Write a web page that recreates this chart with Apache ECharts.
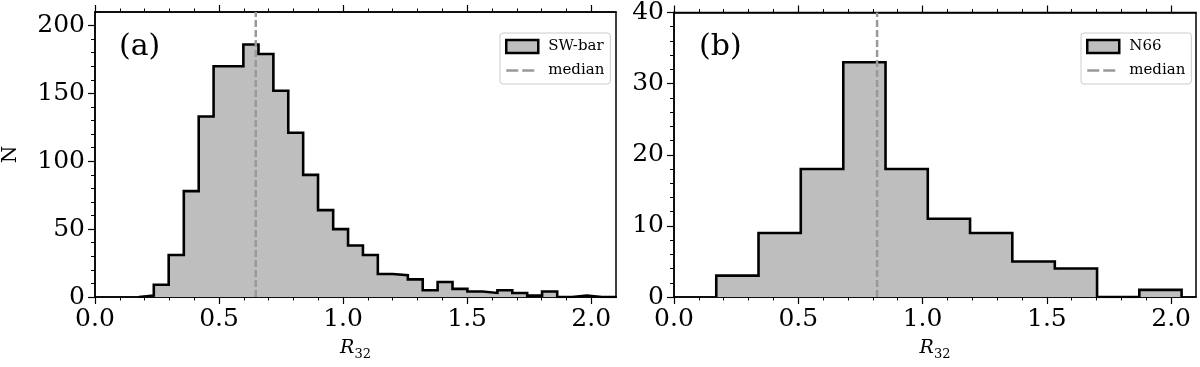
<!DOCTYPE html>
<html>
<head>
<meta charset="utf-8">
<script src="https://cdn.jsdelivr.net/npm/echarts@6/dist/echarts.min.js"></script>
<style>
  html, body { margin: 0; padding: 0; background: #fff; }
  #chart { width: 1200px; height: 367px; }
</style>
</head>
<body>
<div id="chart"></div>
<script>
// R32 histograms, values
var swBarEdges = [0.177, 0.237, 0.297, 0.358, 0.418, 0.478, 0.538, 0.598, 0.659, 0.719,
  0.779, 0.839, 0.899, 0.960, 1.020, 1.080, 1.140, 1.200, 1.261, 1.321, 1.381, 1.441,
  1.501, 1.562, 1.622, 1.682, 1.742, 1.802, 1.863, 1.923, 1.983, 2.043, 2.103];
var swBarCounts = [1, 9, 31, 78, 133, 170, 170, 186, 179, 152, 121, 90, 64, 50, 38, 31,
  17, 16, 13, 5, 11, 6, 4, 3, 5, 3, 1, 4, 0, 1, 0, 0];
var swBarMedian = 0.648;
var swBarYMax = 210;

var n66Edges = [0.170, 0.340, 0.510, 0.681, 0.851, 1.021, 1.191, 1.361, 1.532, 1.702, 1.872, 2.042];
var n66Counts = [3, 9, 18, 33, 18, 11, 9, 5, 4, 0, 1];
var n66Median = 0.817;
var n66YMax = 40;

var xTicks = [0, 0.5, 1.0, 1.5, 2.0];
var yTicksA = [0, 50, 100, 150, 200];
var yTicksB = [0, 10, 20, 30, 40];

var FONT = 'DejaVu Serif';
var FILL = '#bebebe';
var MED = '#999999';

// stepfilled outline of a histogram
function outline(edges, counts) {
  var pts = [[edges[0], 0]];
  for (var i = 0; i < counts.length; i++) {
    pts.push([edges[i], counts[i]]);
    pts.push([edges[i + 1], counts[i]]);
  }
  pts.push([edges[edges.length - 1], 0]);
  return pts;
}

function xAxes(gi) {
  var base = {
    type: 'value', gridIndex: gi, min: 0, max: 2.1, interval: 0.5,
    axisLine: { show: true, onZero: false, lineStyle: { color: '#000', width: 1.5 } },
    axisTick: { show: true, inside: false, length: 7, customValues: xTicks, lineStyle: { color: '#000', width: 1.2 } },
    minorTick: { show: true, splitNumber: 5, length: 3.5, lineStyle: { color: '#000', width: 1 } },
    splitLine: { show: false }
  };
  var bottom = Object.assign({}, base, {
    position: 'bottom',
    axisLabel: {
      customValues: xTicks, margin: 10, color: '#000', fontFamily: FONT, fontSize: 25,
      formatter: function (v) { return v.toFixed(1); }
    },
    name: '{i|R}{s|32}', nameLocation: 'middle', nameGap: 42,
    nameTextStyle: {
      color: '#000',
      rich: {
        i: { fontFamily: FONT, fontStyle: 'italic', fontSize: 19, color: '#000', verticalAlign: 'bottom', padding: [0, 0, 3, 0] },
        s: { fontFamily: FONT, fontSize: 13, color: '#000', verticalAlign: 'bottom', padding: [8, 0, 0, 0] }
      }
    }
  });
  var top = Object.assign({}, base, { position: 'top', axisLabel: { show: false } });
  return [bottom, top];
}

function yAxis(gi, max, interval, ticks, name) {
  return {
    type: 'value', gridIndex: gi, min: 0, max: max, interval: interval, position: 'left',
    axisLine: { show: true, onZero: false, lineStyle: { color: '#000', width: 1.5 } },
    axisTick: { show: true, inside: false, length: 7, customValues: ticks, lineStyle: { color: '#000', width: 1.2 } },
    minorTick: { show: true, splitNumber: 5, length: 4, lineStyle: { color: '#000', width: 1 } },
    splitLine: { show: false },
    axisLabel: { customValues: ticks, margin: 10, color: '#000', fontFamily: FONT, fontSize: 25 },
    name: name, nameLocation: 'middle', nameGap: 74,
    nameTextStyle: { color: '#000', fontFamily: FONT, fontSize: 20 }
  };
}

function histSeries(name, gi, edges, counts) {
  return {
    name: name, type: 'line', xAxisIndex: gi * 2, yAxisIndex: gi,
    data: outline(edges, counts), symbol: 'none', showSymbol: false, animation: false,
    lineStyle: { color: '#000', width: 2.6, join: 'miter' },
    itemStyle: { color: FILL },
    areaStyle: { color: FILL, opacity: 1 },
    z: 2
  };
}

function medianSeries(gi, median, yMax) {
  return {
    name: 'median', type: 'line', xAxisIndex: gi * 2, yAxisIndex: gi,
    data: [[median, 0], [median, yMax]], symbol: 'none', showSymbol: false, animation: false,
    lineStyle: { color: MED, width: 2.5, type: [7, 3] },
    itemStyle: { color: MED },
    z: 3
  };
}

function legend(left, histName) {
  return {
    orient: 'vertical', left: left, top: 33,
    padding: [5, 6, 5, 5], itemWidth: 32, itemHeight: 13, itemGap: 7,
    backgroundColor: '#fff', borderColor: '#cccccc', borderWidth: 1, borderRadius: 3,
    selectedMode: false,
    textStyle: { fontFamily: FONT, fontSize: 15, color: '#000', lineHeight: 17, padding: [0, 0, 0, 5] },
    data: [
      { name: histName, icon: 'rect', itemStyle: { color: FILL, borderColor: '#000', borderWidth: 2.5 } },
      { name: 'median', itemStyle: { opacity: 0 }, lineStyle: { color: MED, width: 2.5, type: [12, 4] } }
    ]
  };
}

var chart = echarts.init(document.getElementById('chart'), null, { renderer: 'canvas' });
var ax0 = xAxes(0), ax1 = xAxes(1);

chart.setOption({
  animation: false,
  backgroundColor: '#fff',
  grid: [
    { left: 94, right: 584, top: 12, bottom: 70, show: true, borderColor: '#000', borderWidth: 1.5, backgroundColor: 'transparent' },
    { left: 674, right: 4, top: 12, bottom: 70, show: true, borderColor: '#000', borderWidth: 1.5, backgroundColor: 'transparent' }
  ],
  xAxis: [ax0[0], ax0[1], ax1[0], ax1[1]],
  yAxis: [
    yAxis(0, swBarYMax, 50, yTicksA, 'N'),
    yAxis(1, n66YMax, 10, yTicksB, '')
  ],
  legend: [legend(500, 'SW-bar'), legend(1081, 'N66')],
  graphic: [
    { type: 'text', left: 119, top: 32, style: { text: '(a)', font: '30px "DejaVu Serif"', fill: '#000' } },
    { type: 'text', left: 699, top: 32, style: { text: '(b)', font: '30px "DejaVu Serif"', fill: '#000' } }
  ],
  series: [
    histSeries('SW-bar', 0, swBarEdges, swBarCounts),
    medianSeries(0, swBarMedian, swBarYMax),
    histSeries('N66', 1, n66Edges, n66Counts),
    medianSeries(1, n66Median, n66YMax)
  ]
});
</script>
</body>
</html>
